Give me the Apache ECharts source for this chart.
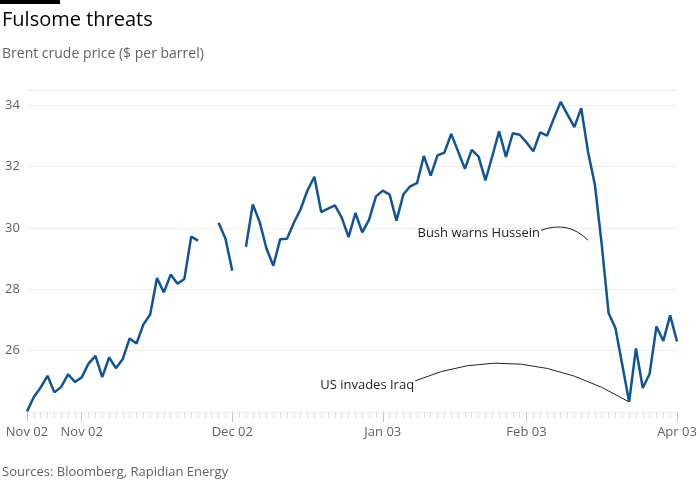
<!DOCTYPE html>
<html><head><meta charset="utf-8">
<script src="https://cdn.jsdelivr.net/npm/echarts@6/dist/echarts.min.js"></script>
<style>body{margin:0;background:#fff}#c{width:700px;height:500px}</style>
</head><body><div id="c"></div>
<script>
const prices = [24.02,24.49,24.80,25.18,24.64,24.82,25.23,24.98,25.13,25.58,25.83,25.14,25.78,25.43,25.73,26.40,26.23,26.85,27.18,28.37,27.90,28.48,28.18,28.34,29.72,29.59,null,null,30.17,29.66,28.61,null,
29.39,30.77,30.20,29.33,28.77,29.63,29.65,30.17,30.62,31.23,31.67,30.52,30.63,30.74,30.34,29.70,30.49,
29.86,30.27,31.03,31.22,31.09,30.24,31.09,31.36,31.46,32.35,31.71,32.37,32.46,33.07,32.50,31.93,32.55,32.33,31.55,32.34,33.15,32.32,33.09,33.04,32.79,32.50,33.12,33.01,33.57,34.11,33.70,33.29,33.91,32.48,31.41,29.46,27.23,26.74,25.54,24.33,26.07,24.78,25.25,26.79,26.32,27.15,26.30];
const categories = prices.map((_, i) => String(i));
const tickLabels = {0:'Nov 02', 8:'Nov 02', 30:'Dec 02', 52:'Jan 03', 73:'Feb 03', 95:'Apr 03'};
const yTicks = [26, 28, 30, 32, 34];
const annotations = [
  {text:'Bush warns Hussein', index:82},
  {text:'US invades Iraq', index:88}
];
const chart = echarts.init(document.getElementById('c'));
const F = 'Open Sans, sans-serif';
const labelled = i => tickLabels[i] !== undefined;
chart.setOption({
  animation:false,
  graphic:[
    {type:'rect', shape:{x:0,y:0,width:60,height:4}, style:{fill:'#000'}},
    {type:'text', left:2, top:10, style:{text:'Fulsome threats', font:'20px '+F, fill:'#000'}},
    {type:'text', left:2, top:47, style:{text:'Brent crude price ($ per barrel)', font:'14px '+F, fill:'#66605c'}},
    {type:'text', left:2, top:466, style:{text:'Sources: Bloomberg, Rapidian Energy', font:'13px '+F, fill:'#66605c'}}
  ],
  grid:{left:27, right:23, top:90, bottom:88},
  xAxis:[{
    type:'category', data:categories, boundaryGap:false,
    axisLine:{show:false},
    axisTick:{show:true, interval:0, length:6, lineStyle:{color:'#e0dcd8'}},
    axisLabel:{interval:(i)=>labelled(i), formatter:(v,i)=>tickLabels[i]||'', color:'#66605c', fontFamily:F, fontSize:13, margin:14},
    splitLine:{show:false}
  },{
    type:'category', data:categories, boundaryGap:false, position:'bottom',
    axisLine:{show:false},
    axisTick:{show:true, interval:(i)=>labelled(i), length:10, lineStyle:{color:'#ccc6c1'}},
    axisLabel:{show:false}
  }],
  yAxis:{
    type:'value', min:24, max:34.5, interval:2,
    axisLabel:{formatter:v=>yTicks.includes(v)?String(v):'', color:'#66605c', fontFamily:F, fontSize:13, align:'left', margin:22, showMaxLabel:false},
    splitLine:{lineStyle:{color:'#f0ece8'}},
    axisLine:{show:false}, axisTick:{show:false}
  },
  series:[{type:'line', data:prices, symbol:'none', connectNulls:false,
    lineStyle:{color:'#0f5499', width:2.5}}]
});
// annotation connectors anchored to data points
const p1 = chart.convertToPixel({xAxisIndex:0,yAxisIndex:0},[annotations[0].index, 29.6]);
const p2 = chart.convertToPixel({xAxisIndex:0,yAxisIndex:0},[annotations[1].index, prices[annotations[1].index]]);
chart.setOption({graphic:[
  {type:'rect', shape:{x:0,y:0,width:60,height:4}, style:{fill:'#000'}},
  {type:'text', left:2, top:10, style:{text:'Fulsome threats', font:'20px '+F, fill:'#000'}},
  {type:'text', left:2, top:47, style:{text:'Brent crude price ($ per barrel)', font:'14px '+F, fill:'#66605c'}},
  {type:'text', left:2, top:466, style:{text:'Sources: Bloomberg, Rapidian Energy', font:'13px '+F, fill:'#66605c'}},
  {type:'text', x:p1[0]-48, y:p1[1]-7, style:{text:annotations[0].text, font:'13px '+F, fill:'#222', align:'right', verticalAlign:'middle'}},
  {type:'bezierCurve', shape:{x1:p1[0]-47, y1:p1[1]-10, x2:p1[0], y2:p1[1], cpx1:p1[0]-20, cpy1:p1[1]-20}, style:{stroke:'#222', lineWidth:1, fill:'none'}},
  {type:'text', x:p2[0]-215, y:p2[1]-17, style:{text:annotations[1].text, font:'13px '+F, fill:'#222', align:'right', verticalAlign:'middle'}},
  {type:'bezierCurve', shape:{x1:p2[0]-214, y1:p2[1]-21, x2:p2[0], y2:p2[1], cpx1:p2[0]-110, cpy1:p2[1]-65}, style:{stroke:'#222', lineWidth:1, fill:'none'}}
]}, {replaceMerge:['graphic']});
</script></body></html>
